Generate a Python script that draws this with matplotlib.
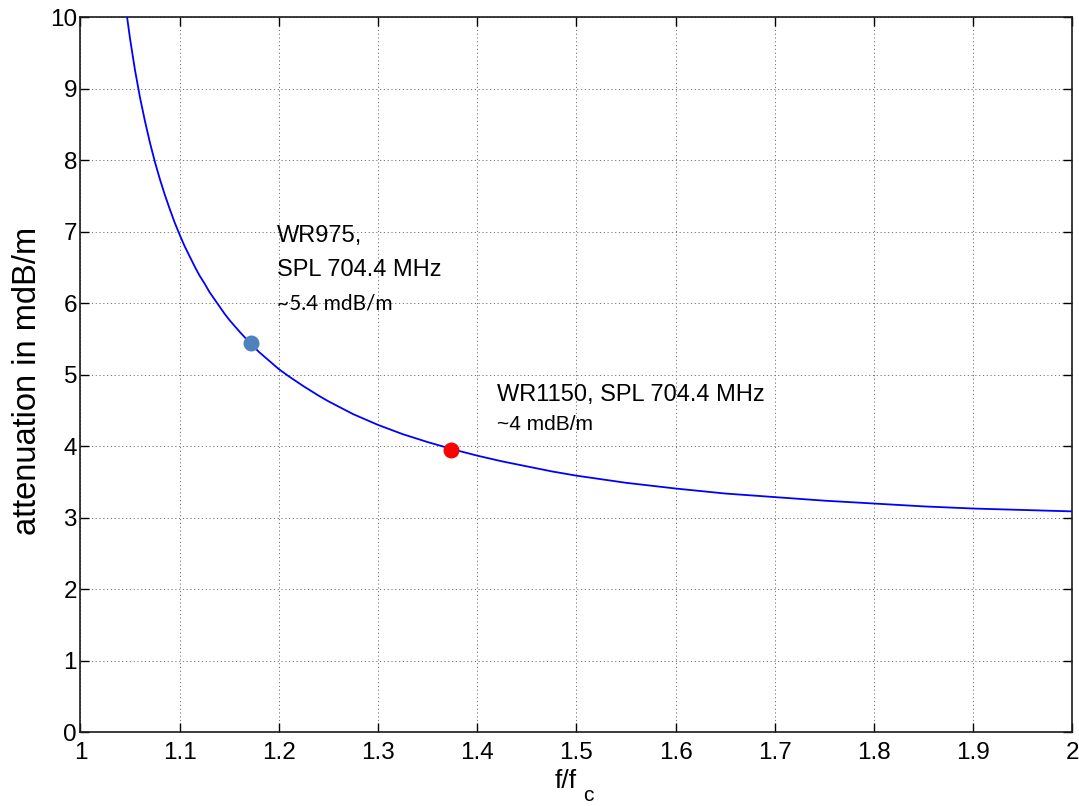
import matplotlib
matplotlib.use("Agg")
import matplotlib.pyplot as plt

# Waveguide attenuation versus normalised frequency f/fc
ratio = [1.046, 1.048, 1.05, 1.055, 1.06, 1.065, 1.07, 1.075, 1.08, 1.085,
         1.09, 1.095, 1.10, 1.105, 1.11, 1.115, 1.12, 1.125, 1.13, 1.135,
         1.14, 1.145, 1.15, 1.16, 1.17, 1.18, 1.19, 1.20, 1.21, 1.225,
         1.24, 1.25, 1.275, 1.30, 1.325, 1.35, 1.375, 1.40, 1.425, 1.45,
         1.475, 1.50, 1.55, 1.60, 1.65, 1.70, 1.75, 1.80, 1.85, 1.90,
         1.95, 2.00]
atten = [10.11, 9.90, 9.70, 9.26, 8.88, 8.55, 8.25, 7.98, 7.74, 7.52,
         7.32, 7.13, 6.96, 6.80, 6.66, 6.52, 6.39, 6.28, 6.16, 6.06,
         5.96, 5.86, 5.77, 5.61, 5.46, 5.32, 5.20, 5.08, 4.98, 4.84,
         4.71, 4.63, 4.45, 4.30, 4.17, 4.06, 3.96, 3.87, 3.79, 3.72,
         3.65, 3.59, 3.49, 3.41, 3.34, 3.29, 3.24, 3.20, 3.16, 3.13,
         3.11, 3.09]

# Operating points of the two waveguides
guide_ratio = [1.1715, 1.374]
guide_atten = [5.45, 3.95]
guide_colors = ["#4F81BD", "#FF0000"]

x_ticks = [1, 1.1, 1.2, 1.3, 1.4, 1.5, 1.6, 1.7, 1.8, 1.9, 2]
x_tick_labels = ["1", "1.1", "1.2", "1.3", "1.4", "1.5", "1.6", "1.7", "1.8", "1.9", "2"]
y_ticks = list(range(0, 11))

plt.rcParams["font.family"] = ["Liberation Sans", "DejaVu Sans"]

fig = plt.figure(figsize=(10.79, 8.06), dpi=100)
ax = fig.add_axes([0.0746, 0.0915, 0.9192, 0.8868])

ax.plot(ratio, atten, color=(0, 0, 1), lw=1.3, zorder=3)
for gx, gy, gc in zip(guide_ratio, guide_atten, guide_colors):
    ax.plot(gx, gy, "o", color=gc, markersize=11.5, markeredgewidth=0, zorder=4)

ax.set_xlim(1, 2)
ax.set_ylim(0, 10)
ax.set_xticks(x_ticks)
ax.set_xticklabels(x_tick_labels)
ax.set_yticks(y_ticks)

ax.grid(True, color="0.45", linestyle=(0, (1.2, 2.7)), linewidth=0.7)
ax.set_axisbelow(True)

ax.tick_params(direction="in", length=6.5, width=1.0, top=True, right=True,
               labelsize=17.5, colors="black")
ax.tick_params(axis="x", pad=7)
ax.tick_params(axis="y", pad=2.5)
for s in ax.spines.values():
    s.set_linewidth(1.2)
    s.set_color("#1a1a1a")

ax.set_ylabel("attenuation in mdB/m", fontsize=23.5)
ax.yaxis.set_label_coords(-0.038, 0.4915)

# x label "f/fc" with a low, large subscript
ax.set_xlabel("f/f", fontsize=19)
ax.xaxis.set_label_coords(0.4895, -0.052)
ax.text(0.5066, -0.0965, "c", transform=ax.transAxes, fontsize=15,
        ha="left", va="baseline")

# Annotations
ax.text(1.1978, 6.864, "WR975,", fontsize=17, va="baseline", ha="left")
ax.text(1.1978, 6.384, "SPL 704.4 MHz", fontsize=17, va="baseline", ha="left")
ax.text(1.1985, 5.908, "~5.4 mdB/m", fontsize=15, va="baseline", ha="left",
        family=["Lato", "DejaVu Sans"])
ax.text(1.4203, 4.635, "WR1150, SPL 704.4 MHz", fontsize=17, va="baseline", ha="left")
ax.text(1.4203, 4.229, "~4 mdB/m", fontsize=15, va="baseline", ha="left")

fig.savefig("out.png", dpi=100, facecolor="white")
